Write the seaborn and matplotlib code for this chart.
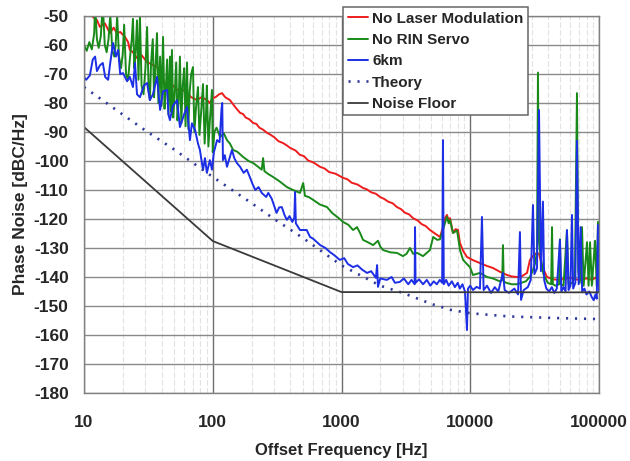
import matplotlib
matplotlib.use("Agg")
import matplotlib.pyplot as plt
import numpy as np
import pandas as pd
import seaborn as sns
from matplotlib.ticker import FixedLocator, FixedFormatter, NullFormatter

# ---------------- data ----------------
red_freq = [11.7, 12.6, 13.3, 14.5, 15.9, 17, 18, 19.1, 20.8, 22,
            22.7, 24, 25.8, 28, 30.9, 33, 36.9, 39, 41.1, 44.2,
            48, 52.8, 57, 63.1, 68, 75.5, 82, 90.2, 95, 100,
            105, 112, 118, 125, 136, 150, 163, 172, 180, 192,
            206, 218, 230, 246, 264, 280, 300, 325, 351, 375,
            400, 440, 476, 510, 550, 610, 681, 740, 800, 900,
            1028, 1110, 1200, 1330, 1469, 1580, 1700, 1850, 1991, 2150,
            2300, 2500, 2698, 2900, 3100, 3350, 3591, 3900, 4200, 4500,
            4866, 5400, 5822, 6138, 6400, 6594, 6800, 6960, 7343, 7700,
            8035, 8322, 8800, 9431, 10500, 11900, 13500, 15020, 17000, 19290,
            21000, 23060, 25000, 27590, 29100, 31000, 32980, 34200, 36000, 39430,
            44000, 49740, 55000, 59540, 65000, 71180, 80000, 88000, 96400, 100000]
red_level = [-50.3, -51.4, -53.8, -52.5, -55.9, -54, -56, -55.5, -57.2, -59,
             -61.7, -62.5, -64.5, -63.5, -65.9, -66.5, -67.6, -69, -72, -74.5,
             -73.5, -75.5, -75, -76.6, -78, -79, -78, -79, -80, -78.3,
             -78, -77, -76.6, -78, -79, -81.5, -83.4, -83.8, -85, -85.6,
             -86.9, -87.2, -88.5, -89.2, -90.3, -90.9, -91.8, -93.2, -93.8, -94.6,
             -95.5, -96.4, -97.9, -98.3, -99.8, -100.6, -102, -102.6, -103.8, -104.4,
             -105.8, -106.3, -107.5, -108.1, -109.3, -109.8, -110.8, -111.3, -112.4, -113.1,
             -114, -114.6, -115.9, -116.6, -117.8, -118.4, -119.7, -120.5, -121.8, -122.4,
             -123.8, -125.2, -126.2, -122.8, -119.5, -118.6, -120.5, -119.7, -124.8, -123.5,
             -123.8, -128.3, -131, -133.1, -134.2, -135.2, -136.2, -136.9, -138.2, -139.3,
             -139.8, -140, -139.8, -138.6, -134.1, -132.5, -131.7, -132, -136, -140,
             -140.8, -141, -140.5, -140.3, -140.8, -141, -140.5, -141, -140, -140.5]

green_freq = [10, 10.5, 11, 11.5, 12, 12.2, 12.6, 13, 13.5, 14,
              14.5, 15, 15.5, 16, 16.6, 17.2, 17.6, 18.1, 18.7, 19.4,
              20, 20.5, 21.2, 22, 22.8, 23.5, 24, 24.6, 25.2, 25.8,
              26.5, 27.2, 28, 29, 30, 30.9, 31.8, 32.5, 33.2, 34.2,
              35, 35.8, 36.9, 37.8, 39, 40, 41.1, 42.2, 43.2, 44.2,
              45.3, 46.5, 47.4, 48.2, 49.3, 50.5, 52, 53.2, 54.4, 55.6,
              57, 58.4, 60, 61.5, 63.1, 64.6, 66.2, 68, 70.2, 72,
              74, 76.8, 78.8, 81, 84, 86.5, 88.5, 90, 92.5, 95,
              98.6, 100, 103, 107, 114, 122, 129, 136, 144, 155,
              172, 190, 206, 225, 240, 246, 252, 270, 294, 330,
              377, 420, 476, 504, 520, 560, 602, 680, 772, 850,
              940, 1028, 1130, 1230, 1320, 1400, 1469, 1600, 1760, 1920,
              2000, 2100, 2400, 2698, 3000, 3200, 3400, 3600, 3870, 4300,
              4866, 5150, 5540, 5822, 6138, 6400, 6594, 6800, 6960, 7343,
              7900, 8322, 8800, 9400, 9950, 10500, 11900, 13500, 15000, 17000,
              17700, 17950, 18200, 19000, 21000, 23000, 25000, 27000, 29000, 30500,
              32000, 33000, 33570, 34200, 35500, 37000, 40000, 42500, 43170, 43800,
              46000, 49000, 49740, 50500, 53000, 56370, 58000, 62000, 65000, 67430,
              69000, 71000, 73800, 76000, 80700, 83000, 85200, 88000, 93100, 96000,
              98200, 100000]
green_level = [-60, -62, -59, -61.5, -56, -46, -58, -61, -57, -46,
               -60, -62.5, -58, -49.5, -62, -64, -60, -50, -64, -68,
               -63, -53, -70, -72, -64, -58, -51, -68, -62, -51.5,
               -72, -50, -74, -77, -68, -53.8, -76, -79, -66, -58,
               -78, -69, -55.9, -80, -64, -81, -57.2, -82, -75, -65,
               -84, -64, -83, -61.7, -85, -78, -66, -86, -79, -64,
               -87, -74, -68, -88, -66, -89, -76, -70, -67.6, -90,
               -82, -74.5, -91, -84, -73.5, -94, -85, -74, -95, -86,
               -75.5, -97, -90, -88.5, -91.7, -90.5, -92.8, -94, -96.2, -96.8,
               -98.6, -100, -100.7, -102, -103, -99, -103.5, -104.5, -105.5, -107,
               -109, -110, -111, -107.6, -112, -112.5, -113.4, -115, -115.9, -118,
               -119.5, -121, -122, -123.8, -122.8, -125, -127.2, -128, -129, -127.5,
               -129.5, -130.7, -131.5, -131.7, -132.8, -132, -130, -132, -131.7, -132.8,
               -130.7, -126.2, -127.2, -127, -123.8, -121, -119.3, -121.5, -120.3, -124.8,
               -124, -130.7, -134.1, -135.5, -136.6, -139.3, -138.6, -140, -140.5, -141.5,
               -141, -129, -141.5, -142, -142.5, -142.5, -142, -141.5, -140, -138,
               -135, -131, -69.5, -128, -134, -139, -142, -142.5, -122.8, -142.5,
               -143, -142.5, -127, -142.5, -143, -124, -142.5, -142, -140, -76.6,
               -138, -142, -122.8, -143, -128, -143, -128, -143, -127.5, -143,
               -121, -142]

blue_freq = [10, 10.4, 11.1, 11.7, 12.2, 12.6, 13.3, 14, 14.6, 15.4,
             15.9, 16.8, 17.7, 18.4, 19.1, 20.1, 21.6, 22.7, 24, 24.9,
             25.8, 27.2, 29.2, 30.9, 32.5, 34.3, 36.9, 39, 41.1, 44.2,
             45.3, 46.5, 49, 52.8, 55.6, 59.8, 63.1, 66.5, 68.9, 72.9,
             76.8, 79.5, 84, 87, 90, 95, 98.6, 102, 108, 113,
             117, 118.5, 120, 124, 129, 135, 141, 147, 154, 163,
             174, 184, 194, 204, 214, 227, 240, 260, 270, 287,
             300, 313, 328, 344, 360, 376, 395, 415, 430, 436,
             442, 476, 537, 570, 602, 683, 750, 813, 880, 970,
             1050, 1120, 1230, 1330, 1450, 1580, 1700, 1850, 1890, 1920,
             2000, 2250, 2450, 2600, 2840, 3050, 3300, 3500, 3700, 3725,
             3760, 4000, 4300, 4600, 4900, 5200, 5500, 5800, 6050, 6138,
             6230, 6500, 6800, 7200, 7600, 8000, 8300, 8700, 9100, 9431,
             9600, 10000, 10500, 11200, 11900, 12330, 12700, 13500, 14500, 15500,
             16500, 17950, 18500, 20000, 22000, 23500, 24320, 24800, 26000, 28000,
             29500, 30700, 31500, 33000, 34200, 35400, 36700, 37500, 39000, 41000,
             43000, 45000, 47000, 49740, 51000, 53000, 55000, 56370, 58000, 60000,
             61660, 63000, 65500, 67430, 69500, 72000, 74000, 77000, 80000, 84000,
             88000, 91000, 94000, 96000, 98200, 100000]
blue_level = [-71, -72, -70.5, -65, -64, -69, -67, -66.2, -71, -72,
              -67, -59.3, -64, -61.7, -70, -69.7, -72.5, -71, -74.5, -66.2,
              -77, -78, -74, -73.1, -79, -77, -71, -82.4, -76, -75.5,
              -84, -85.9, -81, -79, -88.3, -84, -81.4, -92.8, -87, -89.3,
              -94, -96.2, -103.1, -99, -104.1, -99.7, -103, -97, -92.8, -93.5,
              -82, -80, -99.7, -98, -102, -99, -96.2, -99, -100.7, -102,
              -104.1, -103, -105.5, -108, -110, -109, -111, -112.4, -111, -113,
              -115.5, -117.9, -116, -115.9, -118.5, -120.3, -119, -121, -119.5, -110.7,
              -121.5, -123.8, -123.8, -126.2, -126.8, -129, -130, -131.4, -132.5, -134.1,
              -133.5, -135.5, -136.6, -136, -137.5, -138.6, -138, -140.3, -135.9, -143.4,
              -140.5, -141, -140, -142, -141.7, -140.5, -142.5, -141, -142.5, -122.8,
              -142, -140.8, -142.5, -141, -143, -141.5, -142.5, -141, -142, -92.8,
              -142.5, -141, -143, -141.5, -143.5, -142, -144, -142.5, -145, -158.3,
              -144, -143, -144.5, -143.4, -144, -119.3, -144.5, -143, -145.5, -143.5,
              -145, -138.6, -144.5, -145.5, -144, -146, -124.5, -147.9, -144.5, -143.5,
              -141, -115.2, -139, -137, -82.4, -138, -114, -141, -144, -145,
              -143.5, -145.5, -144, -127.2, -145, -143.5, -145, -123.8, -144.5, -143,
              -118.6, -144, -142, -93, -142.5, -122.8, -145, -144, -146, -145,
              -147, -148, -146, -147.5, -122, -145]

theory_freq = [10, 20, 30, 50, 100, 200, 300, 500, 1000, 2000,
               3000, 5000, 7000, 10000, 20000, 50000, 100000]
theory_level = [-74.5, -84, -89.5, -96, -105.5, -114.5, -120, -126.5, -136, -143,
                -145.5, -149.3, -151.3, -152.5, -153.6, -154.2, -154.5]

floor_freq = [10, 100, 1000, 100000]
floor_level = [-88.3, -127.6, -145.2, -145.3]

x_ticks = [10, 100, 1000, 10000, 100000]
x_tick_labels = ["10", "100", "1000", "10000", "100000"]
y_ticks = list(range(-180, -40, 10))

series = [
    ("No Laser Modulation", red_freq, red_level),
    ("No RIN Servo", green_freq, green_level),
    ("6km", blue_freq, blue_level),
    ("Theory", theory_freq, theory_level),
    ("Noise Floor", floor_freq, floor_level),
]
for name, f, v in series:
    assert len(f) == len(v), (name, len(f), len(v))

styles = {
    "No Laser Modulation": dict(color="#ee1d1d", lw=1.4),
    "No RIN Servo": dict(color="#198a19", lw=1.4),
    "6km": dict(color="#1c2ee6", lw=1.4),
    "Theory": dict(color="#2f3a9a", lw=1.9, linestyle=(0, (0.8, 2.6))),
    "Noise Floor": dict(color="#3a3a3a", lw=1.3),
}

# ---------------- figure ----------------
sns.set_theme(style="white")
plt.rcParams["font.family"] = ["Liberation Sans", "DejaVu Sans"]
plt.rcParams["font.weight"] = "bold"

fig = plt.figure(figsize=(6.3, 4.61), dpi=100)
ax = fig.add_axes([84 / 630, 1 - 393 / 461, (599 - 84) / 630, (393 - 16) / 461])

for name, f, v in series:
    df = pd.DataFrame({"freq": f, "level": v})
    sns.lineplot(data=df, x="freq", y="level", ax=ax, estimator=None, sort=False,
                 label=name, **styles[name])

ax.set_xscale("log")
ax.set_xlim(10, 100000)
ax.set_ylim(-180, -50)

ax.xaxis.set_major_locator(FixedLocator(x_ticks))
ax.xaxis.set_major_formatter(FixedFormatter(x_tick_labels))
minor = [m * d for d in [10, 100, 1000, 10000] for m in range(2, 10)]
ax.xaxis.set_minor_locator(FixedLocator(minor))
ax.xaxis.set_minor_formatter(NullFormatter())
ax.yaxis.set_major_locator(FixedLocator(y_ticks))
ax.set_yticklabels([str(t) for t in y_ticks])

ax.grid(False)
ax.set_axisbelow(True)
ax.xaxis.grid(True, which="minor", color="#e2e2e2", lw=0.8, linestyle=(0, (5, 2)))
ax.xaxis.grid(True, which="major", color="#6e6e6e", lw=1.0)
ax.yaxis.grid(True, which="major", color="#8a8a8a", lw=1.0)

for s in ax.spines.values():
    s.set_color("#808080")
    s.set_linewidth(1.0)

ax.tick_params(axis="y", which="major", direction="out", length=5, width=1,
               color="#808080", pad=6, labelsize=12.5)
ax.tick_params(axis="x", which="major", direction="out", length=5, width=1,
               color="#808080", pad=11, labelsize=12.5)
ax.tick_params(axis="x", which="minor", length=0)
for lab in ax.get_xticklabels() + ax.get_yticklabels():
    lab.set_fontweight("bold")

ax.set_xlabel("Offset Frequency [Hz]", fontsize=12, fontweight="bold", labelpad=9.5)
ax.set_ylabel("Phase Noise [dBC/Hz]", fontsize=12.5, fontweight="bold", labelpad=4)

leg = ax.legend(loc="upper left", bbox_to_anchor=(0.503, 1.024), frameon=True,
                fancybox=False, framealpha=1, edgecolor="#666666",
                prop=dict(weight="bold", size=11), handlelength=1.35,
                handletextpad=0.25, labelspacing=0.48, borderpad=0.3,
                borderaxespad=0)
leg.get_frame().set_linewidth(1.1)

fig.savefig("out.png", dpi=100)
